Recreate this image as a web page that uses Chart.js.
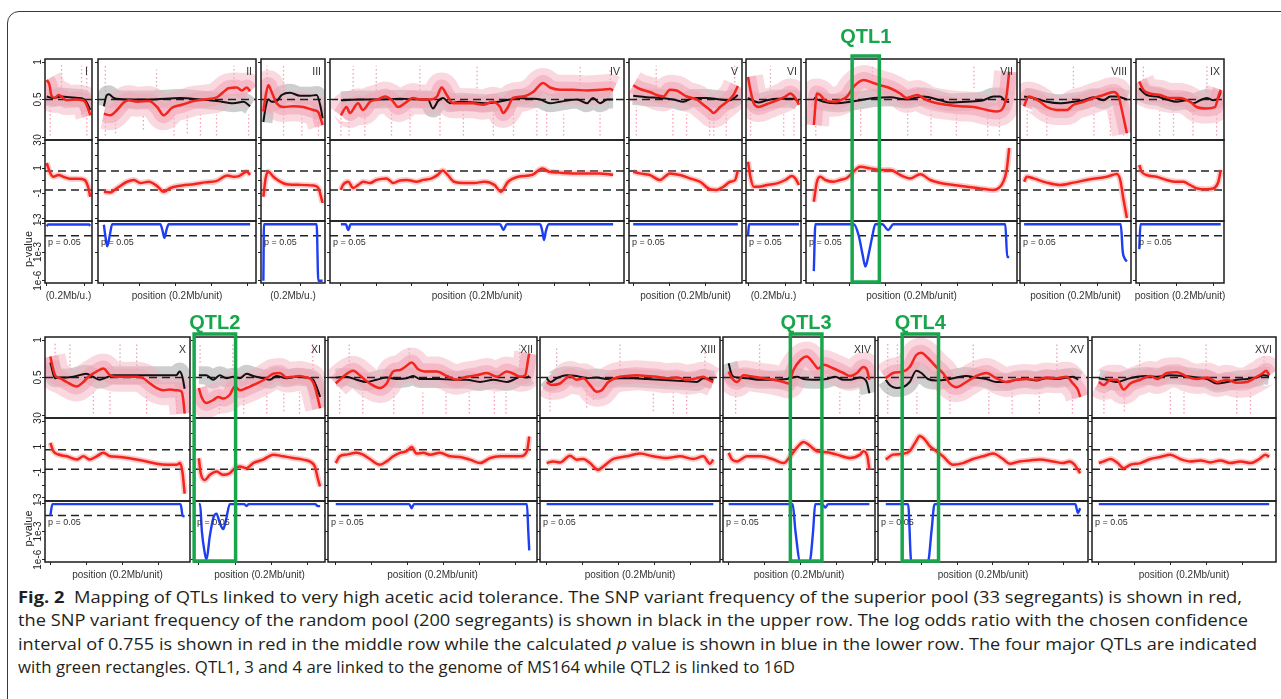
<!DOCTYPE html>
<html>
<head>
<meta charset="utf-8">
<script src="https://cdn.jsdelivr.net/npm/chart.js@4.4.1/dist/chart.umd.min.js"></script>
<style>
  body { margin: 0; background: #fff; }
  #fig { position: relative; width: 1281px; height: 699px; overflow: hidden; background: #fff; }
  #frame { position: absolute; left: 7px; top: 11px; width: 1300px; height: 720px; border: 1.3px solid #3a3a3a; border-radius: 12px; }
  .cap { position: absolute; left: 18px; white-space: nowrap; font-family: "Open Sans", "Noto Sans", sans-serif; font-size: 15.5px; line-height: 23px; color: #231f20; transform-origin: 0 50%; }
  canvas { position: absolute; }
</style>
</head>
<body>
<div id="fig">
  <div id="frame"></div>
  <div class="cap" style="top:586px" data-w="1224"><b>Fig. 2</b>&nbsp; Mapping of QTLs linked to very high acetic acid tolerance. The SNP variant frequency of the superior pool (33 segregants) is shown in red,</div>
  <div class="cap" style="top:609px" data-w="1230">the SNP variant frequency of the random pool (200 segregants) is shown in black in the upper row. The log odds ratio with the chosen confidence</div>
  <div class="cap" style="top:633px" data-w="1239">interval of 0.755 is shown in red in the middle row while the calculated <i>p</i> value is shown in blue in the lower row. The four major QTLs are indicated</div>
  <div class="cap" style="top:656px" data-w="777">with green rectangles. QTL1, 3 and 4 are linked to the genome of MS164 while QTL2 is linked to 16D</div>
</div>
<script>
// chromosomes and their length in 0.2 Mb units
const chromosomes = ["I", "II", "III", "IV", "V", "VI", "VII", "VIII", "IX", "X", "XI", "XII", "XIII", "XIV", "XV", "XVI"];
const chromLength = [1.151, 4.066, 1.583, 7.66, 2.884, 1.351, 5.455, 2.813, 2.199, 3.729, 3.334, 5.391, 4.622, 3.922, 5.456, 4.74];

// every series: [position in % of the chromosome, value]
const superiorFreq = {
  I: [[0,0.76],[6,0.70],[11,0.55],[19,0.52],[27,0.56],[34,0.54],[45,0.49],[68,0.50],[83,0.49],[89,0.46],[95,0.38],[100,0.29]],
  II: [[0,0.31],[4.5,0.29],[9,0.36],[13.6,0.46],[17,0.49],[22.7,0.47],[30.7,0.48],[36.4,0.40],[40.9,0.29],[46.6,0.39],[53.4,0.43],[61.4,0.48],[69.3,0.50],[77.3,0.53],[81.8,0.60],[85.2,0.65],[90.9,0.66],[94.3,0.62],[97.7,0.66],[100,0.61]],
  III: [[0,0.34],[3.9,0.55],[8.4,0.69],[14,0.60],[22.5,0.45],[33.7,0.40],[50.6,0.41],[67.4,0.40],[84.3,0.36],[92.7,0.33],[100,0.16]],
  IV: [[0,0.29],[2.1,0.40],[3.3,0.32],[6.3,0.45],[8.1,0.36],[10.7,0.47],[13.6,0.50],[16.2,0.54],[18.8,0.49],[21,0.40],[23.5,0.45],[26.5,0.52],[29,0.50],[32.7,0.50],[35.3,0.54],[37,0.66],[38.9,0.56],[41.2,0.45],[44.9,0.45],[48.5,0.45],[52.2,0.43],[55.9,0.47],[58.5,0.40],[59.6,0.32],[61.4,0.40],[63.2,0.52],[66.9,0.54],[70.6,0.60],[74.3,0.72],[76.8,0.66],[80.5,0.63],[85.3,0.63],[90.4,0.62],[95.2,0.63],[98.9,0.64],[100,0.62]],
  V: [[0,0.69],[6.4,0.64],[16,0.60],[22.4,0.56],[28.8,0.54],[35.1,0.63],[41.5,0.62],[51.1,0.54],[60.7,0.50],[67.1,0.43],[73.5,0.36],[76.7,0.32],[83.1,0.40],[89.5,0.47],[95.8,0.56],[100,0.68]],
  VI: [[0,0.80],[4.6,0.63],[11.1,0.45],[20.9,0.40],[37.3,0.44],[56.9,0.49],[73.2,0.54],[83,0.58],[92.8,0.52],[100,0.43]],
  VII: [[0,0.16],[1.6,0.58],[3.3,0.56],[5.8,0.49],[10.1,0.47],[13.5,0.49],[17,0.54],[20.4,0.67],[25.5,0.76],[30.6,0.72],[34,0.69],[39.1,0.65],[44.2,0.58],[47.6,0.52],[52.8,0.56],[57.9,0.49],[63,0.45],[68.1,0.43],[75,0.41],[81.8,0.40],[88.6,0.36],[93.7,0.34],[97.1,0.40],[98.8,0.58],[100,0.87]],
  VIII: [[0,0.41],[4.2,0.54],[9.1,0.52],[15.6,0.47],[22.1,0.40],[31.8,0.36],[41.6,0.36],[48.1,0.43],[57.8,0.47],[67.5,0.52],[77.3,0.56],[87,0.60],[91.9,0.54],[95.1,0.36],[100,0.05]],
  IX: [[0,0.74],[4.9,0.63],[13.1,0.58],[25.4,0.56],[37.7,0.52],[50,0.52],[62.3,0.47],[70.5,0.40],[82.8,0.38],[93,0.40],[97.1,0.54],[100,0.63]],
  X: [[0,0.78],[1.7,0.64],[3.5,0.53],[7.2,0.49],[12.2,0.44],[19.6,0.38],[24.6,0.44],[28.3,0.51],[34.5,0.58],[39.5,0.62],[44.4,0.53],[49.4,0.51],[56.8,0.51],[64.3,0.51],[69.2,0.49],[74.2,0.42],[79.2,0.36],[84.1,0.33],[89.1,0.34],[94,0.33],[97.8,0.31],[99,0.20],[100,0.02]],
  XI: [[0,0.36],[2.2,0.24],[6.3,0.16],[11.8,0.20],[15.9,0.24],[20.1,0.22],[25.5,0.27],[29.7,0.38],[33.8,0.33],[39.3,0.36],[44.8,0.40],[50.3,0.44],[55.8,0.49],[61.3,0.55],[66.8,0.56],[72.3,0.50],[77.7,0.51],[83.2,0.52],[88.7,0.50],[92.9,0.47],[95.6,0.38],[98.4,0.20],[100,0.09]],
  XII: [[0,0.42],[3.8,0.51],[9,0.59],[12.4,0.53],[17.6,0.42],[22.8,0.36],[26.3,0.42],[29.7,0.58],[33.2,0.60],[35.8,0.64],[39.2,0.70],[42.6,0.61],[46.1,0.58],[52.2,0.58],[57.4,0.52],[62.5,0.47],[67.7,0.51],[72.9,0.53],[78.1,0.56],[83.3,0.51],[88.4,0.58],[91.9,0.55],[95.3,0.51],[97.9,0.53],[99.6,0.77],[100,0.82]],
  XIII: [[0,0.44],[3,0.40],[8,0.42],[14,0.52],[18,0.47],[22,0.49],[26,0.40],[30,0.31],[33,0.33],[37,0.44],[42,0.50],[48,0.52],[54,0.53],[60,0.52],[66,0.51],[72,0.49],[78,0.50],[84,0.47],[90,0.49],[94,0.51],[97,0.47],[100,0.44]],
  XIV: [[0,0.58],[2.4,0.49],[6,0.44],[10.6,0.53],[17.7,0.51],[24.8,0.49],[31.9,0.47],[39,0.44],[42.6,0.42],[46.1,0.60],[50.9,0.73],[55.6,0.78],[60.3,0.69],[63.8,0.62],[67.4,0.67],[74.5,0.62],[81.6,0.56],[86.3,0.52],[91.1,0.56],[95.7,0.64],[98.3,0.60],[100,0.47]],
  XV: [[0,0.49],[3.7,0.56],[8.8,0.58],[12.3,0.64],[15.7,0.80],[18.2,0.83],[21.7,0.76],[26,0.64],[29.4,0.56],[32.9,0.42],[36.3,0.37],[41.4,0.44],[46.6,0.52],[51.7,0.56],[56.9,0.49],[62,0.44],[67.2,0.47],[72.3,0.48],[77.4,0.47],[82.6,0.50],[87.7,0.49],[92.9,0.51],[96.3,0.42],[98.9,0.33],[100,0.24]],
  XVI: [[0,0.44],[2.9,0.40],[6.8,0.47],[10.7,0.47],[14.6,0.34],[18.5,0.42],[24.4,0.47],[30.2,0.52],[34.2,0.48],[40,0.56],[45.9,0.57],[51.8,0.51],[57.6,0.48],[63.5,0.50],[69.4,0.44],[75.2,0.47],[81.1,0.43],[87,0.44],[91.9,0.50],[95.8,0.55],[98.3,0.59],[100,0.53]],
};

const randomFreq = {
  I: [[0,0.54],[15,0.52],[34,0.54],[53,0.53],[72,0.52],[83,0.51],[92,0.46],[100,0.36]],
  II: [[0,0.41],[1.8,0.55],[3.4,0.57],[6.8,0.52],[15.9,0.50],[31.8,0.50],[52.3,0.52],[65.9,0.50],[77.3,0.48],[88.6,0.45],[95.5,0.47],[100,0.41]],
  III: [[0,0.20],[3.9,0.40],[8.4,0.50],[14,0.47],[22.5,0.48],[30.9,0.56],[44.9,0.59],[61.8,0.55],[78.7,0.55],[89.9,0.56],[96.6,0.40],[100,0.25]],
  IV: [[0,0.49],[7,0.50],[14.3,0.50],[21.7,0.51],[29,0.50],[32,0.50],[33.8,0.38],[35.7,0.48],[37.5,0.52],[40.1,0.45],[43.8,0.47],[53.7,0.45],[62.1,0.50],[64.7,0.52],[69.5,0.51],[73.2,0.50],[76.8,0.45],[80.5,0.47],[86.8,0.50],[90.4,0.45],[92.6,0.52],[95.2,0.45],[97.8,0.50],[100,0.50]],
  V: [[0,0.55],[12.8,0.53],[25.6,0.52],[38.3,0.50],[47.9,0.47],[57.5,0.52],[70.3,0.52],[83.1,0.50],[92.7,0.49],[97.4,0.53],[100,0.56]],
  VI: [[0,0.52],[11.1,0.48],[20.9,0.46],[37.3,0.49],[56.9,0.51],[76.5,0.51],[89.5,0.51],[100,0.47]],
  VII: [[0,0.52],[5,0.47],[11.9,0.45],[18.7,0.47],[23.9,0.49],[30.6,0.52],[39.1,0.53],[47.6,0.50],[56.1,0.54],[64.7,0.49],[69.8,0.46],[78.3,0.47],[86.8,0.49],[92,0.54],[95.4,0.54],[98.8,0.47],[100,0.47]],
  VIII: [[0,0.54],[9.1,0.52],[22.1,0.47],[35.1,0.45],[48.1,0.47],[57.8,0.49],[67.5,0.53],[77.3,0.49],[83.8,0.54],[90.3,0.54],[100,0.50]],
  IX: [[0,0.65],[9,0.56],[21.3,0.54],[33.6,0.50],[45.9,0.47],[58.2,0.49],[66.4,0.45],[74.6,0.49],[82.8,0.52],[91,0.49],[97.1,0.52],[100,0.60]],
  X: [[0,0.70],[3.5,0.49],[7.2,0.50],[12.2,0.50],[17.1,0.51],[26.8,0.55],[31.8,0.51],[36.7,0.47],[41.7,0.50],[46.7,0.53],[56.6,0.53],[66.5,0.53],[76.4,0.53],[86.4,0.53],[93.8,0.53],[96.3,0.58],[98.3,0.51],[100,0.35]],
  XI: [[0,0.53],[6.3,0.53],[11.8,0.47],[17.3,0.53],[22.8,0.49],[28.3,0.51],[33.8,0.49],[39.3,0.55],[44.8,0.52],[53,0.49],[58.5,0.47],[64,0.52],[72.3,0.49],[80.5,0.51],[88.7,0.50],[94.2,0.47],[96.9,0.38],[100,0.24]],
  XII: [[0,0.50],[5.5,0.51],[10.7,0.47],[15.9,0.44],[21.1,0.47],[26.3,0.50],[31.5,0.48],[36.7,0.49],[40.1,0.52],[43.5,0.48],[48.7,0.48],[53.9,0.48],[60.8,0.47],[67.7,0.47],[74.6,0.44],[81.5,0.47],[88.4,0.44],[91.9,0.47],[95.3,0.51],[98.8,0.50],[100,0.52]],
  XIII: [[0,0.49],[2.4,0.44],[6,0.49],[12,0.53],[18,0.52],[24,0.49],[30,0.50],[36,0.48],[44,0.49],[52,0.49],[60,0.48],[68,0.47],[76,0.46],[84,0.45],[90,0.44],[94,0.49],[98,0.48],[100,0.47]],
  XIV: [[0,0.69],[2.4,0.53],[6,0.50],[13,0.49],[22.5,0.47],[31.9,0.47],[41.4,0.48],[48.5,0.51],[53.2,0.48],[60.3,0.47],[69.8,0.48],[75.7,0.51],[81.6,0.47],[86.3,0.47],[93.4,0.50],[98.1,0.44],[100,0.29]],
  XV: [[0,0.47],[2,0.40],[5.4,0.36],[8.8,0.37],[12.3,0.44],[15.7,0.59],[18.3,0.56],[21.7,0.48],[26,0.46],[31.1,0.47],[36.3,0.50],[41.4,0.52],[46.6,0.50],[51.7,0.48],[56.9,0.44],[62,0.44],[67.2,0.47],[72.3,0.48],[77.4,0.46],[82.6,0.49],[87.7,0.48],[92.9,0.50],[96.3,0.51],[98.9,0.47]],
  XVI: [[0,0.49],[4.8,0.47],[10.7,0.44],[16.6,0.48],[22.4,0.51],[28.3,0.52],[34.2,0.51],[42,0.53],[49.9,0.52],[57.6,0.50],[63.5,0.48],[69.4,0.42],[75.2,0.44],[81.1,0.47],[87,0.48],[92.9,0.50],[96.8,0.53],[100,0.52]],
};

// outlier SNP streaks of the superior pool: [position %, low, high]
const outlierStreaks = {
  I: [[8,0.02,0.4],[34,0.62,0.98],[80,0.3,0.95],[92,0.02,0.98]],
  II: [[1,0.02,0.95],[8,0.05,0.4],[27,0.1,0.3],[36,0.62,0.9],[48,0.02,0.3],[57,0.05,0.3],[66,0.02,0.3],[77,0.02,0.3],[89,0.62,0.95],[99,0.02,0.3]],
  III: [[6,0.62,0.95],[34,0.02,0.95],[65,0.02,0.3],[93,0.02,0.3]],
  IV: [[0,0.02,0.4],[3,0.02,0.35],[4.5,0.62,0.95],[8.8,0.02,0.35],[13,0.62,0.95],[18.6,0.02,0.35],[25.4,0.02,0.35],[29,0.62,0.95],[36.4,0.02,0.35],[45,0.02,0.35],[50,0.65,0.95],[56,0.02,0.35],[63.4,0.02,0.35],[72,0.02,0.35],[75.6,0.02,0.35],[81.8,0.02,0.3],[87.9,0.7,0.95],[95.2,0.02,0.3],[98.9,0.6,0.9]],
  V: [[3,0.02,0.4],[22,0.62,0.95],[38,0.02,0.35],[51,0.02,0.3],[73,0.02,0.35],[77,0.02,0.3],[89,0.02,0.3],[97,0.62,0.95]],
  VI: [[5,0.02,0.4],[44,0.62,0.95],[70,0.02,0.3],[90,0.02,0.3]],
  VII: [[1,0.02,0.4],[24,0.02,0.4],[30,0.7,0.95],[48,0.02,0.35],[60,0.02,0.35],[73,0.02,0.3],[82,0.65,0.95],[89,0.02,0.3],[95,0.02,0.3]],
  VIII: [[3,0.02,0.4],[22,0.02,0.3],[48,0.65,0.95],[68,0.02,0.35],[84,0.02,0.35],[97,0.02,0.3]],
  IX: [[5,0.65,0.95],[25,0.02,0.35],[42,0.02,0.35],[66,0.02,0.35],[83,0.6,0.95],[95,0.02,0.3]],
  X: [[3.5,0.45,0.98],[14.6,0.6,0.95],[32,0.02,0.3],[44.4,0.02,0.3],[51.9,0.6,0.95],[64.3,0.6,0.95],[71.7,0.02,0.3],[94,0.02,0.3]],
  XI: [[1,0.7,0.95],[17,0.02,0.3],[28,0.6,0.95],[37,0.02,0.3],[56,0.02,0.3],[70,0.05,0.3],[83,0.02,0.3],[94,0.5,0.95]],
  XII: [[2,0.02,0.3],[7,0.6,0.95],[14,0.02,0.3],[30,0.02,0.3],[38,0.6,0.9],[45,0.02,0.3],[57,0.02,0.3],[69,0.02,0.3],[82,0.02,0.3],[88,0.02,0.3],[95,0.6,0.95]],
  XIII: [[2,0.05,0.4],[6,0.6,0.9],[24,0.1,0.35],[28,0.2,0.35],[44,0.6,0.95],[64,0.05,0.3],[76,0.02,0.3],[84,0.02,0.3],[95,0.6,0.95]],
  XIV: [[5,0.02,0.3],[22,0.6,0.95],[44,0.05,0.3],[79,0.02,0.3],[93,0.02,0.3]],
  XV: [[1,0.02,0.95],[6,0.6,0.95],[16,0.02,0.3],[33,0.02,0.3],[45,0.6,0.95],[53,0.02,0.3],[65,0.02,0.3],[79,0.02,0.3],[88,0.6,0.95],[96,0.02,0.3]],
  XVI: [[3,0.02,0.3],[15,0.05,0.3],[24,0.6,0.95],[42,0.02,0.3],[50,0.02,0.3],[63,0.6,0.95],[81,0.02,0.3],[89,0.02,0.3],[97,0.6,0.95]],
};

const logOdds = {
  I: [[0,1.4],[8,0.6],[15,0.3],[27,0.45],[38,0.3],[53,0.15],[72,0.15],[87,0.05],[95,-0.5],[100,-1.3]],
  II: [[0,-0.9],[4.5,-0.95],[9.1,-0.6],[15.9,-0.1],[20.5,0.05],[25,-0.2],[30.7,-0.1],[36.4,-0.45],[40.9,-0.9],[45.5,-0.6],[53.4,-0.4],[61.4,-0.3],[69.3,-0.15],[76.8,-0.05],[84.5,0.4],[88.6,0.3],[92.3,0.35],[97.7,0.7],[100,0.45]],
  III: [[0,-1.3],[3.9,0.2],[8.4,0.7],[16.9,0.3],[25.3,0],[39.3,-0.3],[61.8,-0.35],[84.3,-0.4],[92.7,-0.6],[100,-1.8]],
  IV: [[0,-0.75],[0.8,-0.35],[2.7,-0.1],[4.5,-0.6],[6.4,-0.35],[8.2,-0.1],[10.7,-0.2],[13.1,0.05],[16.8,0.17],[19.2,-0.2],[21.7,0],[24.1,0.05],[27.8,-0.1],[30.3,0.05],[33.1,0.15],[35.6,0.45],[37.4,0.8],[39.2,0.45],[41.6,-0.1],[45.3,-0.2],[49,-0.2],[52.7,-0.1],[56.4,-0.35],[58.8,-0.9],[61.4,-0.1],[65.1,0.3],[70.3,0.45],[74,0.97],[76.5,0.7],[80.1,0.63],[85,0.57],[90,0.57],[94.9,0.57],[100,0.45]],
  V: [[0,0.7],[6.4,0.57],[16,0.44],[25.6,0.04],[35.1,0.57],[44.7,0.44],[54.3,0.17],[63.9,-0.1],[73.5,-0.7],[79.9,-0.75],[86.3,-0.5],[92.7,-0.1],[97.4,0.04],[100,0.78]],
  VI: [[0,1.5],[4.6,0.3],[11.1,-0.5],[20.9,-0.5],[37.3,-0.36],[56.9,-0.23],[73.2,0.04],[86.3,0.36],[92.8,0.17],[100,-0.36]],
  VII: [[0,-1.7],[1.6,-0.1],[3.3,0.3],[5.9,0.04],[10.1,-0.1],[13.5,0.04],[16.9,0.2],[18.7,0.44],[23.8,1.1],[28.9,0.97],[34,0.84],[39.2,0.84],[44.3,0.44],[49.4,0.17],[54.5,0.5],[59.6,0.04],[64.7,-0.2],[71.5,-0.36],[78.3,-0.5],[85,-0.63],[91.8,-0.76],[97,-0.1],[98.7,0.84],[100,2.6]],
  VIII: [[0,-0.1],[2.6,0.3],[9.1,0.17],[22.1,-0.17],[35.1,-0.36],[48.1,-0.17],[64.3,0.1],[80.5,0.3],[90.3,0.52],[93.5,0.04],[96.8,-1.56],[100,-3.0]],
  IX: [[0,1.24],[2.9,0.7],[9,0.44],[21.3,0.3],[33.6,0.04],[45.9,-0.1],[54.1,-0.1],[62.3,-0.36],[70.5,-0.63],[82.8,-0.7],[91,-0.63],[97.1,-0.1],[100,0.84]],
  X: [[0,1.3],[2.2,0.65],[6,0.39],[12.2,0.25],[19.6,0],[24.6,0.25],[29.5,0],[34.5,0.25],[39.5,0.52],[44.4,0.25],[51.9,0.2],[61.8,0.04],[71.7,-0.15],[79.2,-0.33],[86.6,-0.41],[94,-0.41],[96.5,-0.28],[98.5,-1.07],[100,-2.67]],
  XI: [[0,0.1],[1.6,-1.1],[4.9,-1.6],[9.1,-1.2],[14.6,-0.94],[20.1,-1.2],[25.5,-1.07],[29.7,-0.68],[33.8,-0.54],[39.3,-0.68],[44.8,-0.28],[53,-0.01],[61.3,0.38],[69.5,0.25],[77.7,0.12],[85.9,-0.01],[92.9,-0.23],[95.6,-0.54],[98.4,-1.6],[100,-2.1]],
  XII: [[0,-0.28],[2.1,0.25],[5.5,0.38],[10.7,0.52],[14.1,0.38],[17.6,0.04],[22.8,-0.41],[26.3,-0.15],[29.7,0.25],[33.2,0.52],[36.6,0.65],[39.2,0.97],[41.8,0.46],[45.2,0.52],[48.7,0.38],[53.9,0.52],[59.1,0.25],[64.2,0.2],[69.4,-0.01],[74.6,-0.28],[79.8,0.12],[85,0.25],[90.2,0.25],[95.3,0.25],[98.8,0.65],[100,1.8]],
  XIII: [[0,-0.28],[4,-0.15],[8,-0.23],[14,0.3],[18,-0.01],[22,0.04],[26,-0.28],[31,-0.81],[34,-0.54],[40,0.04],[48,0.25],[56,0.46],[64,0.25],[72,0.12],[80,0.25],[88,0.04],[94,0.25],[98,-0.33],[100,0]],
  XIV: [[0,0.52],[2.4,0],[6,-0.15],[13,0.25],[22.5,0.25],[31.9,0],[39,-0.28],[43.8,0.25],[48.5,0.92],[53.2,1.37],[58,1.05],[62.7,0.65],[69.8,0.57],[76.9,0.38],[86.3,0.12],[93.4,0.38],[95.7,0.65],[98.6,0.25],[100,-0.81]],
  XV: [[0,0],[3.7,0.38],[8.9,0.44],[12.3,0.65],[15.7,1.45],[17.4,1.84],[20,1.58],[22.6,1.05],[26,0.65],[29.4,0.25],[34.6,-0.41],[39.7,-0.28],[44.9,0.04],[50,0.25],[55.1,0.46],[60.3,0.04],[63.7,-0.33],[68.8,-0.15],[74,-0.07],[79.1,0],[86,-0.15],[91.1,-0.28],[94.6,-0.15],[97.1,-0.41],[98.9,-0.81],[100,-1.07]],
  XVI: [[0,-0.28],[2.9,-0.15],[6.8,0.04],[10.7,-0.23],[14.6,-0.68],[18.5,-0.41],[24.4,-0.28],[30.2,0.04],[36.1,0.2],[42,0.38],[47.8,0.04],[53.7,-0.15],[59.6,-0.07],[65.5,-0.23],[71.3,-0.07],[77.2,-0.28],[83.1,-0.15],[89,-0.28],[93.8,0],[97.8,0.38],[100,0.2]],
};

const pValue = {
  I: [[0,0.5],[3,0.75],[97,0.75],[100,0.55]],
  II: [[0,0.7],[1,0.05],[2.3,0.004],[4,0.05],[5.7,0.8],[38.6,0.8],[40,0.2],[41.4,0.03],[42.8,0.2],[44.3,0.8],[100,0.8]],
  III: [[0,1e-6],[1,0.8],[89.9,0.8],[92.7,1e-6],[100,1e-6]],
  IV: [[0,0.8],[1.8,0.8],[2.7,0.2],[3.6,0.8],[58.5,0.8],[59.7,0.2],[60.9,0.8],[73.2,0.8],[74,0.15],[74.6,0.018],[75.3,0.15],[76.3,0.8],[100,0.8]],
  V: [[0,0.8],[100,0.8]],
  VI: [[0,0.05],[2,0.8],[100,0.8]],
  VII: [[0,1e-5],[0.8,0.8],[20.5,0.8],[23,0.05],[25,5e-4],[26.4,3e-5],[28,5e-4],[30,0.05],[31.5,0.8],[35,0.8],[38.1,0.2],[40.7,0.8],[98,0.8],[99,3e-4],[100,3e-4]],
  VIII: [[0,0.8],[94,0.8],[96,1e-3],[98,2e-4],[100,1e-4]],
  IX: [[0,2e-3],[1.5,0.8],[100,0.8]],
  X: [[0,0.05],[1.5,0.8],[97,0.8],[98.5,0.05],[100,0.04]],
  XI: [[0,0.8],[1,0.8],[2.5,1e-3],[4.5,1e-5],[6.3,1e-6],[9,3e-4],[12,0.03],[14.6,0.08],[17,0.01],[20.1,1.8e-3],[22.5,0.02],[25.5,0.8],[37.5,0.8],[39.3,0.5],[41,0.8],[96,0.8],[98,0.5],[100,0.5]],
  XII: [[0,0.8],[38,0.8],[39.2,0.3],[40.4,0.8],[98.8,0.8],[99.5,1e-3],[100,1e-5]],
  XIII: [[0,0.8],[100,0.8]],
  XIV: [[0,0.8],[45.5,0.8],[47.5,1e-3],[50.9,6e-7],[57.5,6e-7],[60,1e-3],[61.5,0.8],[66.5,0.8],[68.6,0.35],[70.7,0.8],[100,0.8]],
  XV: [[0,0.8],[11.5,0.8],[13.1,6e-7],[21.7,6e-7],[23.5,1e-3],[25.1,0.8],[97.5,0.8],[98.8,0.09],[100,0.3]],
  XVI: [[0,0.8],[100,0.8]],
};

// QTL regions (0.2 Mb units)
const qtlNames = ["QTL1", "QTL2", "QTL3", "QTL4"];
const qtlChrom = ["VII", "XI", "XIV", "XV"];
const qtlStart = [1.07, -0.13, 1.72, 0.46];
const qtlEnd = [1.83, 1.01, 2.6, 1.48];

const confidence = 0.755;
const pThreshold = 0.05;
const freqTicks = [0, 0.5, 1];
const oddsTicks = [-3, -1, 1, 3];
const pTicks = [1e-6, 1e-3, 1];
const pTickLabels = ["1e-6", "1e-3", "1"];

// page layout
const TICK = 3;
const RED = "#f4251c", BLUE = "#1d3ef2", GREEN = "#17a64b";
const FONT = "'Liberation Sans', Arial, sans-serif";
const rows = [
  { top: 59, bottom: 283, canvasTop: 22, canvasBottom: 306, weights: [81, 81, 62], labelGap: 22 },
  { top: 337, bottom: 562, canvasTop: 300, canvasBottom: 590, weights: [81, 83, 61], labelGap: 14 },
];
const panels = [
  ["I", 0, 45, 92], ["II", 0, 98, 256], ["III", 0, 261, 325], ["IV", 0, 330, 624], ["V", 0, 629, 742],
  ["VI", 0, 746, 801], ["VII", 0, 806, 1017], ["VIII", 0, 1020, 1131], ["IX", 0, 1136, 1224],
  ["X", 1, 45, 190], ["XI", 1, 194, 325], ["XII", 1, 328, 537], ["XIII", 1, 540, 720],
  ["XIV", 1, 723, 875], ["XV", 1, 878, 1088], ["XVI", 1, 1092, 1276],
];
const shortTitle = ["I", "III", "VI"];

let vtext = function (ctx, t, x, y) {
  ctx.save();
  ctx.translate(x, y);
  ctx.rotate(-Math.PI / 2);
  ctx.fillText(t, 0, 0);
  ctx.restore();
};

let decor = {
  id: "decor",
  afterDatasetsDraw(chart, args, o) {
    const { ctx, chartArea: a } = chart;
    const { x, yF, yL, yP } = chart.scales;
    ctx.save();
    ctx.strokeStyle = "#1b1b1b";
    ctx.lineWidth = 1.5;
    [yF, yL, yP].forEach((s) => ctx.strokeRect(a.left, s.top, a.right - a.left, s.bottom - s.top));

    ctx.fillStyle = "#333";
    ctx.textBaseline = "middle";
    ctx.font = "10.5px " + FONT;
    ctx.textAlign = "right";
    ctx.fillText(o.chr, a.right - 4, yF.top + 13);
    ctx.font = "10px " + FONT;
    ctx.textAlign = "center";
    ctx.fillText(o.title, (a.left + a.right) / 2, a.bottom + 13);
    ctx.font = "9px " + FONT;
    ctx.textAlign = "left";
    ctx.fillText("p = " + pThreshold, a.left + 3, yP.getPixelForValue(pThreshold) + 7);

    if (o.first) {
      ctx.fillStyle = "#222";
      ctx.textAlign = "center";
      ctx.font = "10px " + FONT;
      freqTicks.forEach((v) => vtext(ctx, String(v), a.left - 7, yF.getPixelForValue(v)));
      oddsTicks.forEach((v) => vtext(ctx, String(v), a.left - 7, yL.getPixelForValue(v)));
      pTicks.forEach((v, k) => vtext(ctx, pTickLabels[k], a.left - 7, yP.getPixelForValue(v)));
      ctx.font = "11px " + FONT;
      vtext(ctx, "p-value", a.left - 16, (yP.top + yP.bottom) / 2 - 3);
    }

    qtlChrom.forEach((c, k) => {
      if (c !== o.chr) return;
      const x0 = x.getPixelForValue(qtlStart[k]);
      const x1 = x.getPixelForValue(qtlEnd[k]);
      ctx.strokeStyle = GREEN;
      ctx.lineWidth = 3.5;
      ctx.strokeRect(x0, a.top - 3, x1 - x0, a.bottom - a.top + 2);
      ctx.fillStyle = GREEN;
      ctx.font = "bold 20px " + FONT;
      ctx.textAlign = "center";
      ctx.fillText(qtlNames[k], (x0 + x1) / 2, a.top - o.labelGap);
    });
    ctx.restore();
  },
};

let line = function (data, yAxisID, color, width, extra) {
  return Object.assign(
    { data, yAxisID, borderColor: color, borderWidth: width, pointRadius: 0, fill: false, clip: 0, cubicInterpolationMode: "monotone" },
    extra || {}
  );
};

let grid = { drawOnChartArea: false, drawTicks: true, tickLength: TICK, color: "#222", lineWidth: 1 };

let drawPanel = function (p) {
  const [chr, r, left, right] = p;
  const i = chromosomes.indexOf(chr);
  const row = rows[r];
  const first = left < 50;
  const ml = first ? 40 : 20;
  const mr = chr === "IX" ? 2 : 25;
  const w = right - left + ml + mr;
  const h = row.canvasBottom - row.canvasTop;
  const canvas = document.createElement("canvas");
  canvas.width = w;
  canvas.height = h;
  canvas.style.left = left - ml + "px";
  canvas.style.top = row.canvasTop + "px";
  canvas.style.width = w + "px";
  canvas.style.height = h + "px";
  document.getElementById("fig").appendChild(canvas);

  const L = chromLength[i];
  const xmin = -0.04 * L, xmax = 1.04 * L;
  const pts = (arr) => arr.map(([f, v]) => ({ x: (f / 100) * L, y: v }));
  const hline = (y, axis) => line([{ x: xmin, y }, { x: xmax, y }], axis, "#222", 1.5, { borderDash: [8, 5] });
  const streaks = [];
  outlierStreaks[chr].forEach(([f, lo, hi]) => {
    const xs = (f / 100) * L;
    streaks.push({ x: xs, y: lo }, { x: xs, y: hi }, { x: xs, y: null });
  });

  const datasets = [
    line(pts(pValue[chr]), "yP", BLUE, 2.4),
    hline(pThreshold, "yP"),
    line(pts(logOdds[chr]), "yL", RED, 2.5),
    line(pts(logOdds[chr]), "yL", "rgba(245,110,110,0.35)", 6),
    hline(confidence, "yL"),
    hline(-confidence, "yL"),
    line(pts(superiorFreq[chr]), "yF", RED, 2.5),
    line(pts(randomFreq[chr]), "yF", "#111", 2),
    hline(0.5, "yF"),
    line(pts(superiorFreq[chr]), "yF", "rgba(244,165,182,0.6)", 16, { borderJoinStyle: "round" }),
    line(pts(superiorFreq[chr]), "yF", "rgba(246,178,194,0.5)", 30, { borderJoinStyle: "round" }),
    line(pts(randomFreq[chr]), "yF", "rgba(180,180,180,0.65)", 18, { borderJoinStyle: "round" }),
    line(streaks, "yF", "rgba(240,150,170,0.9)", 1.3, { borderDash: [1.5, 2.5], cubicInterpolationMode: "default", tension: 0, spanGaps: false }),
  ];

  new Chart(canvas, {
    type: "line",
    data: { datasets },
    options: {
      responsive: false,
      animation: false,
      events: [],
      layout: { padding: { left: ml - TICK, right: mr, top: row.top - row.canvasTop, bottom: row.canvasBottom - row.bottom - TICK } },
      plugins: {
        legend: { display: false },
        tooltip: { enabled: false },
        decor: { chr, first, title: shortTitle.includes(chr) ? "(0.2Mb/u.)" : "position (0.2Mb/unit)", labelGap: row.labelGap },
      },
      scales: {
        x: { type: "linear", position: "bottom", min: xmin, max: xmax, ticks: { display: false, stepSize: 1, includeBounds: false }, grid, border: { display: false } },
        yF: { type: "linear", position: "left", stack: "s", stackWeight: row.weights[0], weight: 3, min: -0.04, max: 1.04, ticks: { display: false, stepSize: 0.5, includeBounds: false }, grid, border: { display: false } },
        yL: { type: "linear", position: "left", stack: "s", stackWeight: row.weights[1], weight: 2, min: -3.24, max: 3.24, ticks: { display: false, stepSize: 1, includeBounds: false }, grid, border: { display: false } },
        yP: {
          type: "logarithmic", position: "left", stack: "s", stackWeight: row.weights[2], weight: 1,
          min: Math.pow(10, -6.24), max: Math.pow(10, 0.24),
          ticks: { display: false }, grid, border: { display: false },
          afterBuildTicks: (s) => { s.ticks = pTicks.map((v) => ({ value: v })); },
        },
      },
    },
    plugins: [decor],
  });
};

panels.forEach(drawPanel);

document.querySelectorAll(".cap").forEach((el) => {
  const w = el.getBoundingClientRect().width;
  el.style.transform = "scaleX(" + el.dataset.w / w + ")";
});
</script>
</body>
</html>
